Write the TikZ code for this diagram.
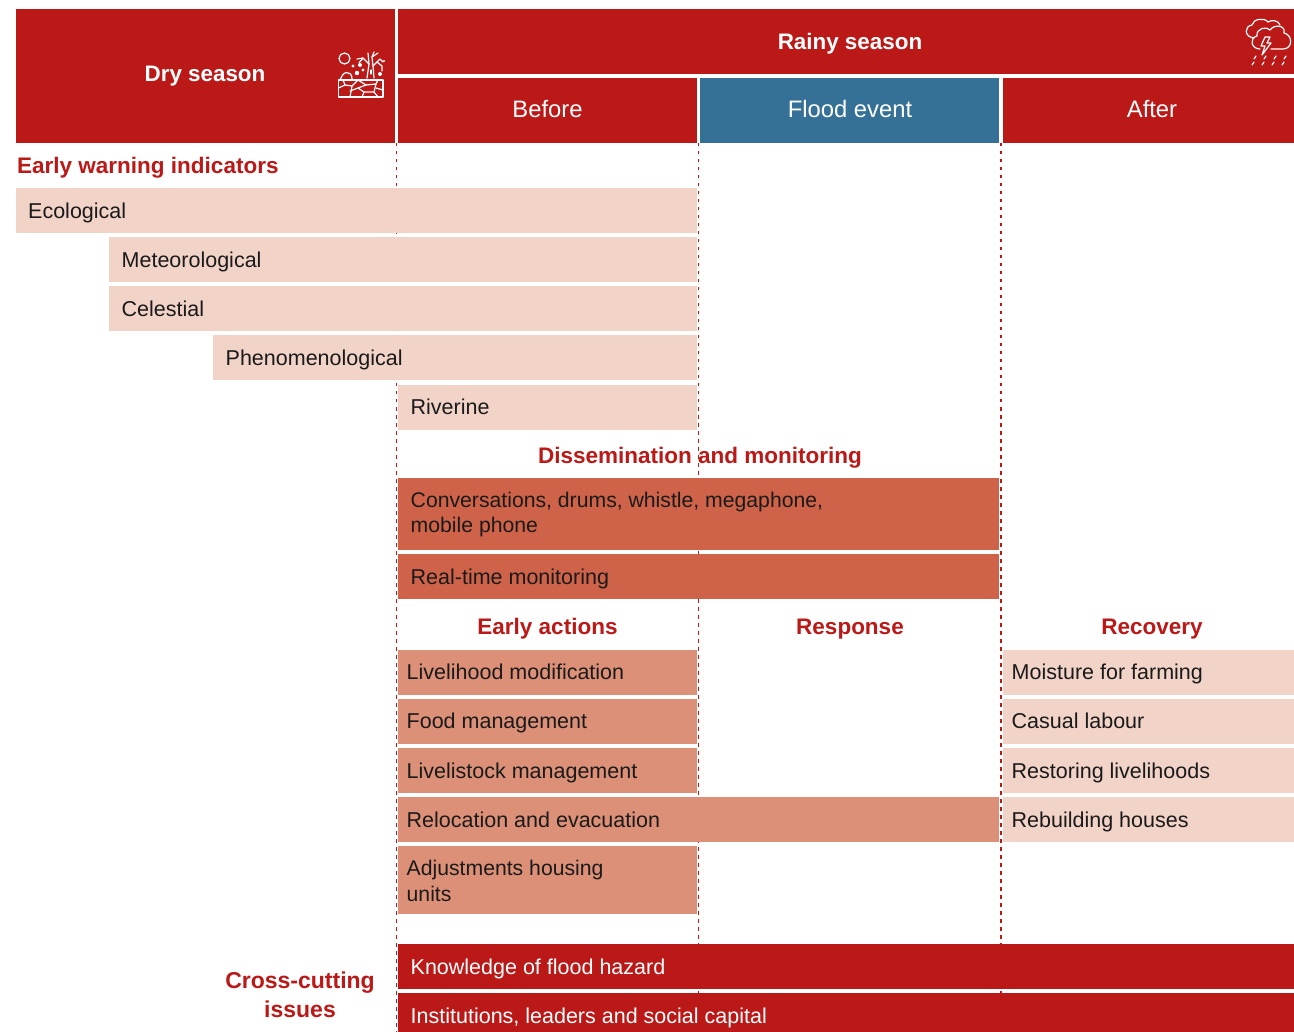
\documentclass[tikz,border=0pt]{standalone}
\usepackage{fontspec}
\setmainfont{Liberation Sans}
\definecolor{floodred}{HTML}{BB1917}
\definecolor{floodblue}{HTML}{357096}
\definecolor{barlight}{HTML}{F2D3C8}
\definecolor{barmid}{HTML}{DD9078}
\definecolor{bardark}{HTML}{CF6349}
\definecolor{inkblack}{HTML}{1A1A1A}
\tikzset{
	barlabel/.style={anchor=west, inner sep=0pt, text height=16pt, text depth=0pt, text=inkblack, font=\fontsize{21.5}{25}\selectfont},
	barlabelwhite/.style={barlabel, text=white},
	twolines/.style={anchor=west, inner sep=0pt, align=left, text=inkblack, font=\fontsize{21.2}{25.5}\selectfont},
	headwhite/.style={inner sep=0pt, text height=16pt, text depth=0pt, text=white, font=\fontsize{23.8}{26}\selectfont},
	headbold/.style={inner sep=0pt, text height=16pt, text depth=0pt, text=white, font=\fontsize{22.4}{26}\selectfont\bfseries},
	headred/.style={inner sep=0pt, text height=16pt, text depth=0pt, text=floodred, font=\fontsize{22.5}{29}\selectfont\bfseries},
	crosslabel/.style={inner sep=0pt, text=floodred, align=center, font=\fontsize{23}{29}\selectfont\bfseries},
	seasonline/.style={floodred, line width=1.3pt, dash pattern=on 3.5pt off 4.5pt},
	iconline/.style={white, line width=1.2pt, line cap=round, line join=round}
}
\begin{document}
\begin{tikzpicture}[x=1pt, y=-1pt]
	%%%%% START %%%%%
	\useasboundingbox (0, 0) rectangle (1294, 1032);

	\draw[seasonline] (396.7, 143) -- (396.7, 1032);
	\draw[seasonline] (698.7, 143) -- (698.7, 1000);
	\draw[seasonline] (1001, 143) -- (1001, 1000);

	\fill[floodred] (16, 9) rectangle (395, 143);
	\fill[floodred] (398, 9) rectangle (1294, 74);
	\fill[floodred] (398, 78) rectangle (697, 143);
	\fill[floodblue] (700, 78) rectangle (999, 143);
	\fill[floodred] (1003, 78) rectangle (1294, 143);

	\node[headbold] (dry) at (205, 73.5) {Dry season};
	\node[headbold] (rainy) at (850, 41.5) {Rainy season};
	\node[headwhite] (before) at (547.5, 110) {Before};
	\node[headwhite] (flood) at (850, 110) {Flood event};
	\node[headwhite] (after) at (1152, 110) {After};

	% dry icon
	\draw[iconline] (344.5, 58.5) circle (5.5);
	\draw[iconline] (338.5, 80) rectangle (383, 97);
	\draw[iconline] (338.5, 88) -- (345, 85) -- (352, 86) -- (350, 97);
	\draw[iconline] (345, 85) -- (343, 80);
	\draw[iconline] (352, 86) -- (358, 80);
	\draw[iconline] (358, 80) -- (366, 85) -- (376, 84) -- (378, 80);
	\draw[iconline] (350, 91) -- (358, 88) -- (366, 85);
	\draw[iconline] (358, 88) -- (364, 92) -- (374, 92) -- (376, 84);
	\draw[iconline] (364, 92) -- (362, 97);
	\draw[iconline] (376, 88) -- (383, 90);
	\draw[iconline] (374, 92) -- (378, 97);
	\draw[iconline] (340, 80) .. controls (342, 75) and (345, 71) .. (348, 73) .. controls (352, 73) and (352, 78) .. (352, 80);
	\draw[iconline] (367, 78) -- (369, 64) -- (363, 58) -- (357, 59);
	\draw[iconline] (374, 78) -- (373, 66) -- (380, 59) -- (383, 62);
	\draw[iconline] (369, 64) -- (368, 53);
	\draw[iconline] (373, 66) -- (372, 57) -- (374, 52);
	\draw[iconline] (372, 57) -- (378, 53);
	\draw[iconline] (377, 62) -- (382, 66) -- (382, 71);
	\draw[iconline] (363, 58) -- (359, 63);
	\draw[iconline] (371, 70) -- (371, 74);
	\fill[white] (360, 65) circle (2) (353, 66) circle (1.6) (357, 73) circle (2.2) (363, 70) circle (1.6) (380, 74) circle (2) (384, 61) circle (1.2);

	% rainy icon
	\draw[iconline] (1254, 38) .. controls (1244, 37) and (1244, 26) .. (1252, 25) .. controls (1253, 19) and (1264, 17) .. (1268, 22) .. controls (1272, 19) and (1279, 21) .. (1280, 25);
	\draw[iconline] (1260, 49) .. controls (1251, 49) and (1249, 38) .. (1257, 36) .. controls (1256, 28) and (1267, 26) .. (1270, 30) .. controls (1274, 24) and (1286, 25) .. (1284, 33) .. controls (1293, 35) and (1293, 49) .. (1283, 49) -- (1271, 49);
	\draw[iconline] (1265, 37) -- (1261, 46) -- (1265, 46) -- (1262, 55) -- (1271, 43) -- (1267, 43) -- (1270, 37) -- cycle;
	\foreach \px in {1256, 1266, 1276, 1286} {
		\draw[iconline] (\px, 56) -- ({\px-2}, 59);
	}
	\foreach \px in {1254, 1264, 1274, 1284} {
		\draw[iconline] (\px, 62) -- ({\px-2}, 65);
	}

	\node[headred, anchor=west] (warning) at (17, 166) {Early warning indicators};

	\fill[barlight] (16, 188) rectangle (697, 233);
	\fill[barlight] (109, 237) rectangle (697, 282);
	\fill[barlight] (109, 286) rectangle (697, 331);
	\fill[barlight] (213, 335) rectangle (697, 380);
	\fill[barlight] (398, 385) rectangle (697, 430);
	\node[barlabel] (ecological) at (28, 210.5) {Ecological};
	\node[barlabel] (meteorological) at (121.5, 259.5) {Meteorological};
	\node[barlabel] (celestial) at (121.5, 308.5) {Celestial};
	\node[barlabel] (phenomenological) at (225.5, 357.5) {Phenomenological};
	\node[barlabel] (riverine) at (410.5, 406.5) {Riverine};

	\node[headred] (dissemination) at (700, 455) {Dissemination and monitoring};

	\fill[bardark] (398, 478) rectangle (999, 550);
	\fill[bardark] (398, 554) rectangle (999, 599);
	\node[twolines] (conversations) at (410.5, 514.5) {Conversations, drums, whistle, megaphone,\\mobile phone};
	\node[barlabel] (realtime) at (410.5, 576.5) {Real-time monitoring};

	\node[headred] (earlyactions) at (547.5, 626) {Early actions};
	\node[headred] (response) at (850, 626) {Response};
	\node[headred] (recovery) at (1152, 626) {Recovery};

	\fill[barmid] (398, 650) rectangle (697, 695);
	\fill[barmid] (398, 699) rectangle (697, 744);
	\fill[barmid] (398, 748) rectangle (697, 793);
	\fill[barmid] (398, 797) rectangle (999, 842);
	\fill[barmid] (398, 846) rectangle (697, 914);
	\node[barlabel] (livelihood) at (406.5, 671.5) {Livelihood modification};
	\node[barlabel] (food) at (406.5, 720.5) {Food management};
	\node[barlabel] (livestock) at (406.5, 770.5) {Livelistock management};
	\node[barlabel] (relocation) at (406.5, 819.5) {Relocation and evacuation};
	\node[twolines] (housing) at (406.5, 881) {Adjustments housing\\units};

	\fill[barlight] (1003, 650) rectangle (1294, 695);
	\fill[barlight] (1003, 699) rectangle (1294, 744);
	\fill[barlight] (1003, 748) rectangle (1294, 793);
	\fill[barlight] (1003, 797) rectangle (1294, 842);
	\node[barlabel] (moisture) at (1011.5, 671.5) {Moisture for farming};
	\node[barlabel] (casual) at (1011.5, 720.5) {Casual labour};
	\node[barlabel] (restoring) at (1011.5, 770.5) {Restoring livelihoods};
	\node[barlabel] (rebuilding) at (1011.5, 819.5) {Rebuilding houses};

	\node[crosslabel] (crosscutting) at (300, 995) {Cross-cutting\\issues};
	\fill[floodred] (398, 944) rectangle (1294, 989);
	\fill[floodred] (398, 993) rectangle (1294, 1032);
	\node[barlabelwhite] (knowledge) at (410.5, 966.5) {Knowledge of flood hazard};
	\node[barlabelwhite] (institutions) at (410.5, 1015.5) {Institutions, leaders and social capital};

	%%%%% END %%%%%
\end{tikzpicture}
\end{document}
